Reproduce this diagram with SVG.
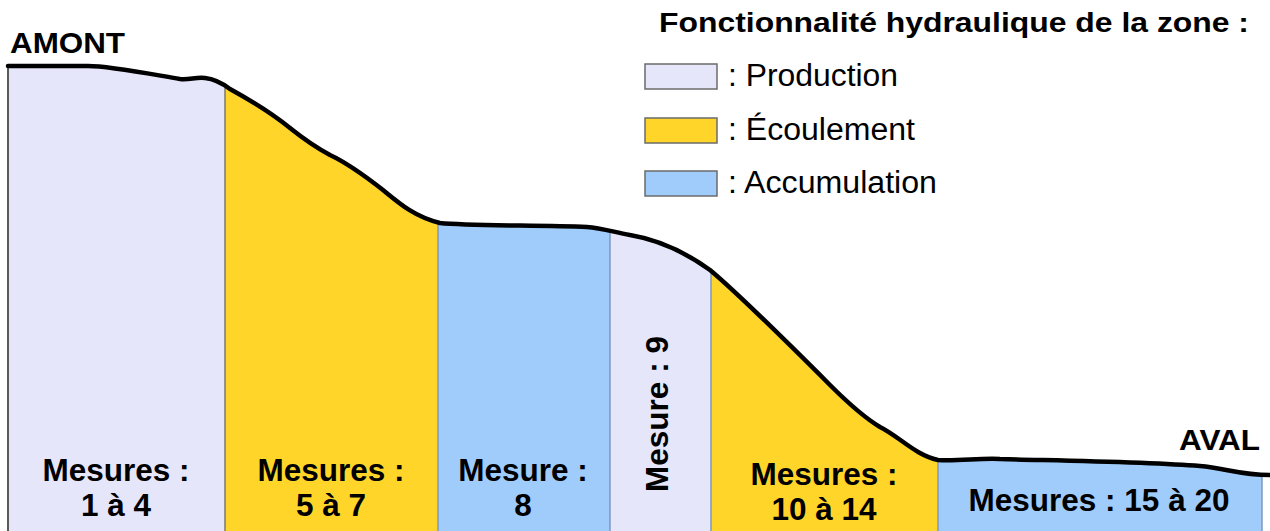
<svg xmlns="http://www.w3.org/2000/svg" xmlns:xlink="http://www.w3.org/1999/xlink" width="1270" height="531" viewBox="0 0 1270 531">
  <style>
    .lbl { font-family: "Liberation Sans", Arial, sans-serif; font-weight: bold; font-size: 31.5px; fill: #000; text-anchor: middle; }
    .end { font-family: "Liberation Sans", Arial, sans-serif; font-weight: bold; font-size: 30px; fill: #000; }
    .title { font-family: "Liberation Sans", Arial, sans-serif; font-weight: bold; font-size: 28px; fill: #000; }
    .key { font-family: "Liberation Sans", Arial, sans-serif; font-size: 31px; fill: #000; }
    .prod { fill: #e6e6fa; }
    .ecou { fill: #ffd52a; }
    .accu { fill: #a0ccfb; }
    .swatch { stroke: #6b6b6b; stroke-width: 1.5; }
    .edge { fill: none; stroke: #7f98bd; stroke-width: 1.5; }
    .profile { fill: none; stroke: #000; stroke-width: 4.5; stroke-linejoin: round; stroke-linecap: round; }
  </style>
  <defs>
    <!-- ground profile, upstream (left) to downstream (right) -->
    <path id="ground" d="M 8,66 L 88,66 C 110,66 150,74 180,79 C 190,80 195,77 205,78 C 215,79 222,83 230,89 C 250,100 270,112 290,128 C 305,140 315,147 330,155 C 345,162 360,172 383,190 C 400,204 415,217 440,223 C 470,226 540,225 587,227 C 600,228 610,231 630,235 C 660,240 685,252 710,270 C 740,295 790,345 830,385 C 850,405 865,418 880,427 C 900,437 915,455 938,460 C 960,461 980,458 1000,459 C 1080,461 1150,462 1200,466 C 1225,468 1240,475 1270,475"/>
    <path id="area" d="M 8,66 L 88,66 C 110,66 150,74 180,79 C 190,80 195,77 205,78 C 215,79 222,83 230,89 C 250,100 270,112 290,128 C 305,140 315,147 330,155 C 345,162 360,172 383,190 C 400,204 415,217 440,223 C 470,226 540,225 587,227 C 600,228 610,231 630,235 C 660,240 685,252 710,270 C 740,295 790,345 830,385 C 850,405 865,418 880,427 C 900,437 915,455 938,460 C 960,461 980,458 1000,459 C 1080,461 1150,462 1200,466 C 1225,468 1240,475 1270,475 L 1270,531 L 8,531 Z"/>
    <clipPath id="c1"><rect x="8" y="0" width="217" height="531"/></clipPath>
    <clipPath id="c2"><rect x="225" y="0" width="213" height="531"/></clipPath>
    <clipPath id="c3"><rect x="438" y="0" width="172" height="531"/></clipPath>
    <clipPath id="c4"><rect x="610" y="0" width="101" height="531"/></clipPath>
    <clipPath id="c5"><rect x="711" y="0" width="227" height="531"/></clipPath>
    <clipPath id="c6"><rect x="938" y="0" width="324" height="531"/></clipPath>
  </defs>

  <rect width="1270" height="531" fill="#fff"/>

  <!-- zones along the profile -->
  <g id="zone-1">
    <use xlink:href="#area" class="prod" clip-path="url(#c1)"/>
    <text class="lbl" x="116" y="481">Mesures :</text>
    <text class="lbl" x="116" y="516">1 à 4</text>
  </g>
  <g id="zone-2">
    <use xlink:href="#area" class="ecou" clip-path="url(#c2)"/>
    <text class="lbl" x="331" y="481">Mesures :</text>
    <text class="lbl" x="331" y="516">5 à 7</text>
  </g>
  <g id="zone-3">
    <use xlink:href="#area" class="accu" clip-path="url(#c3)"/>
    <text class="lbl" x="523" y="481">Mesure :</text>
    <text class="lbl" x="523" y="516">8</text>
  </g>
  <g id="zone-4">
    <use xlink:href="#area" class="prod" clip-path="url(#c4)"/>
    <text class="lbl" transform="translate(668,414) rotate(-90)">Mesure : 9</text>
  </g>
  <g id="zone-5">
    <use xlink:href="#area" class="ecou" clip-path="url(#c5)"/>
    <text class="lbl" x="824" y="485">Mesures :</text>
    <text class="lbl" x="824" y="520">10 à 14</text>
  </g>
  <g id="zone-6">
    <use xlink:href="#area" class="accu" clip-path="url(#c6)"/>
    <text class="lbl" x="1099" y="511">Mesures : 15 à 20</text>
  </g>

  <!-- zone boundaries and profile line -->
  <g id="connectors">
    <line x1="8" y1="66" x2="8" y2="531" stroke="#5a5a5a" stroke-width="2"/>
    <line x1="225" y1="88" x2="225" y2="531" stroke="#7a7a6a" stroke-width="1.5"/>
    <line class="edge" x1="438" y1="223" x2="438" y2="531"/>
    <line class="edge" x1="610" y1="231" x2="610" y2="531"/>
    <line class="edge" x1="711" y1="270" x2="711" y2="531"/>
    <line class="edge" x1="938" y1="460" x2="938" y2="531"/>
    <line class="edge" x1="1262" y1="474" x2="1262" y2="531"/>
    <use xlink:href="#ground" class="profile"/>
  </g>

  <!-- end labels -->
  <text class="end" x="10" y="53" textLength="115" lengthAdjust="spacingAndGlyphs">AMONT</text>
  <text class="end" x="1179" y="450" textLength="81" lengthAdjust="spacingAndGlyphs">AVAL</text>

  <!-- legend -->
  <g id="legend">
    <text class="title" x="659" y="32" textLength="590" lengthAdjust="spacingAndGlyphs">Fonctionnalité hydraulique de la zone :</text>
    <rect class="prod swatch" x="645" y="64" width="72" height="25"/>
    <text class="key" x="728" y="86" textLength="170" lengthAdjust="spacingAndGlyphs">: Production</text>
    <rect class="ecou swatch" x="645" y="118" width="72" height="25"/>
    <text class="key" x="728" y="140" textLength="187" lengthAdjust="spacingAndGlyphs">: Écoulement</text>
    <rect class="accu swatch" x="645" y="171" width="72" height="25"/>
    <text class="key" x="728" y="193" textLength="209" lengthAdjust="spacingAndGlyphs">: Accumulation</text>
  </g>
</svg>
